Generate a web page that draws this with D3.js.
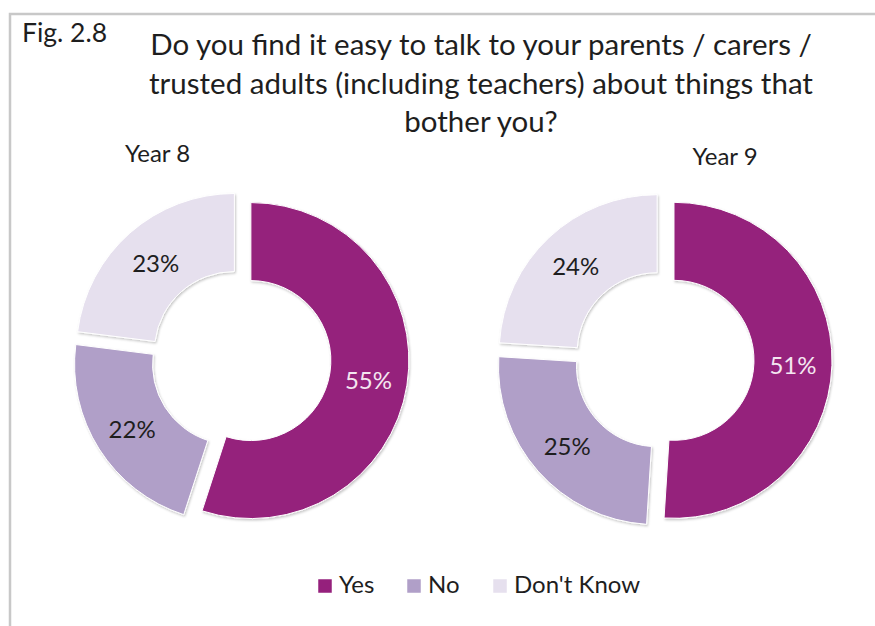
<!DOCTYPE html>
<html>
<head>
<meta charset="utf-8">
<script src="https://cdn.jsdelivr.net/npm/d3@7"></script>
<style>
  html, body { margin: 0; padding: 0; background: #fff; }
  svg { display: block; }
  text { font-family: Lato, "Noto Sans", sans-serif; fill: #1e1e1e; }
</style>
</head>
<body>
<svg id="chart" width="875" height="626"></svg>
<script>
// Survey answers, percent of respondents
const categories = ["Yes", "No", "Don't Know"];
const yearGroups = ["Year 8", "Year 9"];
const year8Values = [55, 22, 23];
const year9Values = [51, 25, 24];
const sliceColors = ["#95207c", "#b09fc8", "#e6e0ee"];
const labelColors = ["#f4e6f1", "#1e1e1e", "#1e1e1e"];
const titleLines = [
  "Do you find it easy to talk to your parents / carers /",
  "trusted adults (including teachers) about things that",
  "bother you?"
];
const figLabel = "Fig. 2.8";

const svg = d3.select("#chart");

// Frame
svg.append("rect")
  .attr("x", 10).attr("y", 14)
  .attr("width", 900).attr("height", 700)
  .attr("fill", "none")
  .attr("stroke", "#c8c8c8")
  .attr("stroke-width", 2.5);

// Soft shadow under each slice
const defs = svg.append("defs");
const shadow = defs.append("filter").attr("id", "sliceShadow")
  .attr("x", "-10%").attr("y", "-10%").attr("width", "120%").attr("height", "120%");
shadow.append("feDropShadow")
  .attr("dx", 1).attr("dy", 1.5).attr("stdDeviation", 1.2)
  .attr("flood-color", "#000").attr("flood-opacity", 0.22);

svg.append("text")
  .attr("x", 22).attr("y", 42)
  .attr("font-size", 26.5)
  .text(figLabel);

svg.append("g").selectAll("text")
  .data(titleLines)
  .join("text")
  .attr("x", 481)
  .attr("y", (d, i) => 55 + i * 38.5)
  .attr("text-anchor", "middle")
  .attr("font-size", 29.5)
  .text(d => d);

const colorScale = d3.scaleOrdinal().domain(categories).range(sliceColors);
const labelColorScale = d3.scaleOrdinal().domain(categories).range(labelColors);

const pie = d3.pie().sort(null).value(d => d.value);
const outerR = 158, innerR = 80, explode = 10;
const arc = d3.arc().innerRadius(innerR).outerRadius(outerR);

const donuts = [
  { name: yearGroups[0], values: year8Values, cx: 241, cy: 359, titleX: 157.5, titleY: 162 },
  { name: yearGroups[1], values: year9Values, cx: 664, cy: 360, titleX: 725, titleY: 165 }
];

donuts.forEach(dn => {
  const data = categories.map((c, i) => ({ category: c, value: dn.values[i] }));
  const g = svg.append("g").attr("transform", `translate(${dn.cx},${dn.cy})`);

  const slices = g.selectAll("g.slice")
    .data(pie(data))
    .join("g")
    .attr("class", "slice")
    .attr("transform", d => {
      const a = (d.startAngle + d.endAngle) / 2;
      return `translate(${explode * Math.sin(a)},${-explode * Math.cos(a)})`;
    });

  slices.append("path")
    .attr("d", arc)
    .attr("fill", d => colorScale(d.data.category))
    .attr("stroke", "#ffffff")
    .attr("stroke-width", 1)
    .attr("filter", "url(#sliceShadow)");

  slices.append("text")
    .attr("transform", d => `translate(${arc.centroid(d)})`)
    .attr("text-anchor", "middle")
    .attr("dominant-baseline", "central")
    .attr("font-size", 24)
    .style("fill", d => labelColorScale(d.data.category))
    .text(d => d.data.value + "%");

  svg.append("text")
    .attr("x", dn.titleX).attr("y", dn.titleY)
    .attr("text-anchor", "middle")
    .attr("font-size", 24)
    .text(dn.name);
});

// Legend
const legendX = [318, 407, 493];
const legend = svg.append("g").selectAll("g")
  .data(categories)
  .join("g")
  .attr("transform", (d, i) => `translate(${legendX[i]},579)`);
legend.append("rect")
  .attr("width", 14).attr("height", 14)
  .attr("fill", d => colorScale(d))
  .attr("stroke", "#ffffff").attr("stroke-width", 0.5);
legend.append("text")
  .attr("x", 21).attr("y", 14)
  .attr("font-size", 24)
  .text(d => d);
</script>
</body>
</html>
